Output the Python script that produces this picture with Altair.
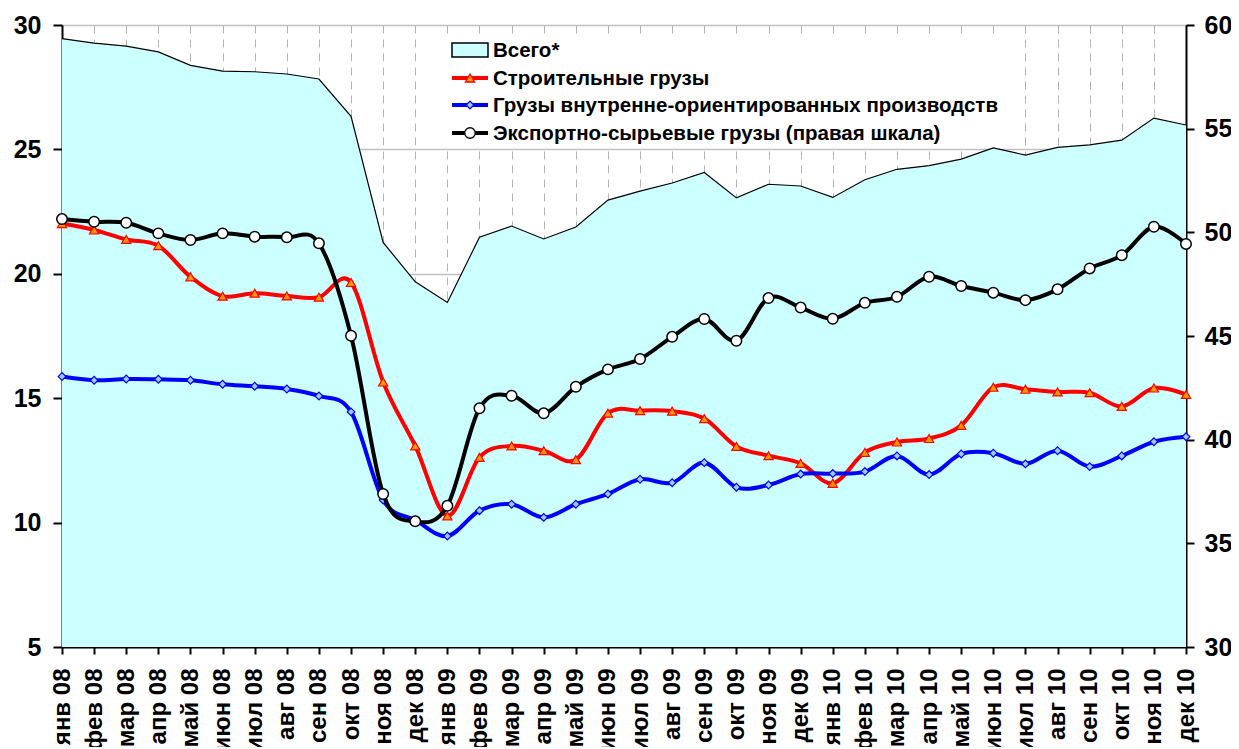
import altair as alt
import pandas as pd

months = ['янв 08', 'фев 08', 'мар 08', 'апр 08', 'май 08', 'июн 08', 'июл 08', 'авг 08', 'сен 08', 'окт 08', 'ноя 08', 'дек 08',
          'янв 09', 'фев 09', 'мар 09', 'апр 09', 'май 09', 'июн 09', 'июл 09', 'авг 09', 'сен 09', 'окт 09', 'ноя 09', 'дек 09',
          'янв 10', 'фев 10', 'мар 10', 'апр 10', 'май 10', 'июн 10', 'июл 10', 'авг 10', 'сен 10', 'окт 10', 'ноя 10', 'дек 10']

total = [29.45, 29.27, 29.15, 28.92, 28.38, 28.15, 28.12, 28.03, 27.83, 26.33, 21.26, 19.68,
         18.85, 21.47, 21.92, 21.40, 21.88, 22.96, 23.32, 23.65, 24.07, 23.05, 23.60, 23.53,
         23.07, 23.78, 24.20, 24.35, 24.61, 25.06, 24.77, 25.08, 25.18, 25.37, 26.26, 25.98]

construction = [22.02, 21.76, 21.38, 21.13, 19.88, 19.10, 19.22, 19.11, 19.06, 19.65, 15.65, 13.08,
                10.27, 12.62, 13.08, 12.89, 12.53, 14.40, 14.50, 14.48, 14.18, 13.06, 12.69, 12.38,
                11.58, 12.82, 13.24, 13.38, 13.91, 15.44, 15.36, 15.25, 15.22, 14.67, 15.41, 15.15]

domestic = [15.87, 15.72, 15.77, 15.76, 15.72, 15.56, 15.48, 15.37, 15.09, 14.45, 10.91, 10.10,
            9.46, 10.48, 10.74, 10.21, 10.74, 11.15, 11.74, 11.60, 12.41, 11.42, 11.51, 11.95,
            11.97, 12.05, 12.68, 11.93, 12.76, 12.79, 12.36, 12.89, 12.25, 12.68, 13.25, 13.45]

export = [50.64, 50.51, 50.46, 49.95, 49.63, 49.95, 49.79, 49.76, 49.47, 45.01, 37.38, 36.06,
          36.81, 41.51, 42.12, 41.27, 42.55, 43.39, 43.89, 44.96, 45.82, 44.77, 46.83, 46.37,
          45.83, 46.60, 46.89, 47.86, 47.41, 47.09, 46.73, 47.25, 48.26, 48.90, 50.27, 49.44]

legend_labels = ['Всего*', 'Строительные грузы', 'Грузы внутренне-ориентированных производств',
                 'Экспортно-сырьевые грузы (правая шкала)']

df = pd.DataFrame({'month': months, 'total': total, 'construction': construction,
                   'domestic': domestic, 'export': export})

FONT = 'Liberation Sans'

x_enc = alt.X('month:N', sort=months, title=None,
              scale=alt.Scale(type='point', padding=0),
              axis=alt.Axis(labelAngle=-90, labelFontSize=24, labelFontWeight='bold', labelFont=FONT,
                            labelColor='black', labelPadding=14, labelOverlap=False, labelBound=False,
                            tickSize=7, tickColor='black', tickWidth=2,
                            domainColor='black', domainWidth=2,
                            grid=True, gridDash=[8, 6], gridColor='#b4b4b4', gridWidth=1))

y_left_scale = alt.Scale(domain=[5, 30], nice=False, zero=False)
y_left_axis = alt.Axis(values=[5, 10, 15, 20, 25, 30], labelFontSize=25, labelFontWeight='bold', labelFont=FONT,
                       labelColor='black', labelPadding=12, tickSize=9, tickColor='black', tickWidth=2,
                       domainColor='black', domainWidth=2, grid=True, gridColor='#c0c0c0', gridWidth=1.5,
                       title=None)

base = alt.Chart(df)

area = base.mark_area(color='#CCFFFF', opacity=1).encode(
    x=x_enc,
    y=alt.Y('total:Q', scale=y_left_scale, axis=y_left_axis),
    y2=alt.datum(5),
)
area_line = base.mark_line(color='black', strokeWidth=1.2).encode(
    x=x_enc, y=alt.Y('total:Q', scale=y_left_scale, axis=y_left_axis))

red_line = base.mark_line(color='#FF0000', strokeWidth=4, interpolate='cardinal', tension=0).encode(
    x=x_enc, y=alt.Y('construction:Q', scale=y_left_scale, axis=y_left_axis))
red_pts = base.mark_point(shape='triangle-up', filled=True, fill='#FF9900', stroke='#FF0000',
                          strokeWidth=1.2, size=85, opacity=1).encode(
    x=x_enc, y=alt.Y('construction:Q', scale=y_left_scale, axis=y_left_axis))

blue_line = base.mark_line(color='#0000FF', strokeWidth=4, interpolate='cardinal', tension=0).encode(
    x=x_enc, y=alt.Y('domestic:Q', scale=y_left_scale, axis=y_left_axis))
blue_pts = base.mark_point(shape='diamond', filled=True, fill='#99CCFF', stroke='#0000FF',
                           strokeWidth=1.2, size=60, opacity=1).encode(
    x=x_enc, y=alt.Y('domestic:Q', scale=y_left_scale, axis=y_left_axis))

# legend background box (drawn under the series)
legend_box = alt.Chart(pd.DataFrame({'a': [0]})).mark_rect(color='white').encode(
    x=alt.value(358), x2=alt.value(938), y=alt.value(11), y2=alt.value(121))

left = alt.layer(area, area_line, legend_box, red_line, red_pts, blue_line, blue_pts)

y_right_scale = alt.Scale(domain=[30, 60], nice=False, zero=False)
y_right_axis = alt.Axis(orient='right', values=[30, 35, 40, 45, 50, 55, 60], labelFontSize=25,
                        labelFontWeight='bold', labelFont=FONT, labelColor='black', labelPadding=10,
                        tickSize=8, tickColor='black', tickWidth=2, domainColor='black', domainWidth=2,
                        grid=False, title=None)

black_line = base.mark_line(color='black', strokeWidth=4, interpolate='cardinal', tension=0).encode(
    x=x_enc, y=alt.Y('export:Q', scale=y_right_scale, axis=y_right_axis))
black_pts = base.mark_point(shape='circle', filled=True, fill='white', stroke='black',
                            strokeWidth=1.5, size=110, opacity=1).encode(
    x=x_enc, y=alt.Y('export:Q', scale=y_right_scale, axis=y_right_axis))

right = alt.layer(black_line, black_pts)

# legend items
one = pd.DataFrame({'a': [0]})
sym_x0, sym_x1, sym_xc, txt_x = 390, 426, 408, 431
row_y = [25, 53, 80, 108]
leg_layers = []
leg_layers.append(alt.Chart(one).mark_rect(fill='#CCFFFF', stroke='black', strokeWidth=1.5).encode(
    x=alt.value(sym_x0), x2=alt.value(sym_x1), y=alt.value(row_y[0] - 7), y2=alt.value(row_y[0] + 7)))
line_specs = [('#FF0000', 'triangle-up', '#FF9900', '#FF0000', 85),
              ('#0000FF', 'diamond', '#99CCFF', '#0000FF', 60),
              ('black', 'circle', 'white', 'black', 110)]
for i, (lc, shp, fc, sc, sz) in enumerate(line_specs):
    yy = row_y[i + 1]
    leg_layers.append(alt.Chart(one).mark_rule(color=lc, strokeWidth=4).encode(
        x=alt.value(sym_x0), x2=alt.value(sym_x1), y=alt.value(yy)))
    leg_layers.append(alt.Chart(one).mark_point(shape=shp, filled=True, fill=fc, stroke=sc,
                                                strokeWidth=1.3, size=sz, opacity=1).encode(
        x=alt.value(sym_xc), y=alt.value(yy)))
for i, lab in enumerate(legend_labels):
    leg_layers.append(alt.Chart(one).mark_text(align='left', baseline='middle', font=FONT, fontSize=20.5,
                                               fontWeight='bold', color='black').encode(
        x=alt.value(txt_x), y=alt.value(row_y[i] + 1), text=alt.value(lab)))

chart = alt.layer(left, right, *leg_layers).resolve_scale(y='independent').properties(
    width=1124, height=622,
    autosize=alt.AutoSizeParams(type='none'),
    padding={'left': 54, 'top': 17, 'right': 45, 'bottom': 100},
).configure_view(stroke=None).configure(font=FONT)

chart.save('out.html', embed_options={'renderer': 'svg', 'actions': False})
